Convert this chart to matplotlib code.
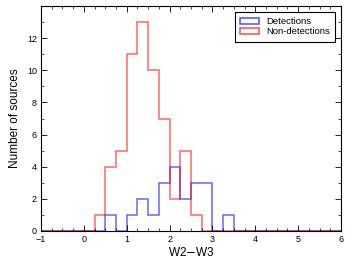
import numpy as np
import matplotlib
matplotlib.use("Agg")
import matplotlib.pyplot as plt
from matplotlib.ticker import MultipleLocator
from matplotlib.patches import Patch

plt.rcParams['font.family'] = ['Liberation Sans', 'DejaVu Sans']

bin_edges = np.arange(-1.0, 6.0001, 0.25)
det_counts = [0, 0, 0, 0, 0, 0, 1, 0, 1, 2, 1, 3, 4, 2, 3, 3, 0, 1, 0, 0, 0, 0, 0, 0, 0, 0, 0, 0]
nondet_counts = [0, 0, 0, 0, 0, 1, 4, 5, 11, 13, 10, 7, 2, 5, 1, 0, 0, 0, 0, 0, 0, 0, 0, 0, 0, 0, 0, 0]
labels = ['Detections', 'Non-detections']

fig = plt.figure(figsize=(3.52, 2.64), dpi=100)
ax = fig.add_axes([41/352, 1 - 231/264, 300/352, 225/264])

ax.stairs(det_counts, bin_edges, color='blue', alpha=0.6, lw=1.1)
ax.stairs(nondet_counts, bin_edges, color='red', alpha=0.6, lw=1.1)

ax.set_xlim(-1, 6)
ax.set_ylim(0, 14)
ax.xaxis.set_major_locator(MultipleLocator(1))
ax.xaxis.set_minor_locator(MultipleLocator(0.25))
ax.yaxis.set_major_locator(MultipleLocator(2))
ax.yaxis.set_minor_locator(MultipleLocator(1))
ax.set_yticks([0, 2, 4, 6, 8, 10, 12])
ax.tick_params(which='both', direction='in', top=True, right=True, labelsize=6.5, pad=3)
ax.tick_params(which='major', length=4, width=0.6)
ax.tick_params(which='minor', length=2, width=0.5)
for s in ax.spines.values():
    s.set_linewidth(0.8)

ax.set_xlabel('W2$-$W3', fontsize=8.5, labelpad=1)
ax.set_ylabel('Number of sources', fontsize=8.5, labelpad=4)

handles = [Patch(facecolor='none', edgecolor='blue', alpha=0.7, lw=1.1),
           Patch(facecolor='none', edgecolor='red', alpha=0.7, lw=1.1)]
leg = ax.legend(handles, labels, loc='upper right', fontsize=6.8, fancybox=False, edgecolor='black',
                framealpha=1, handlelength=2.0, handleheight=0.7, borderpad=0.6,
                labelspacing=0.1, handletextpad=0.7, borderaxespad=0.6)
leg.get_frame().set_linewidth(0.8)

fig.savefig('out.png', dpi=100)
